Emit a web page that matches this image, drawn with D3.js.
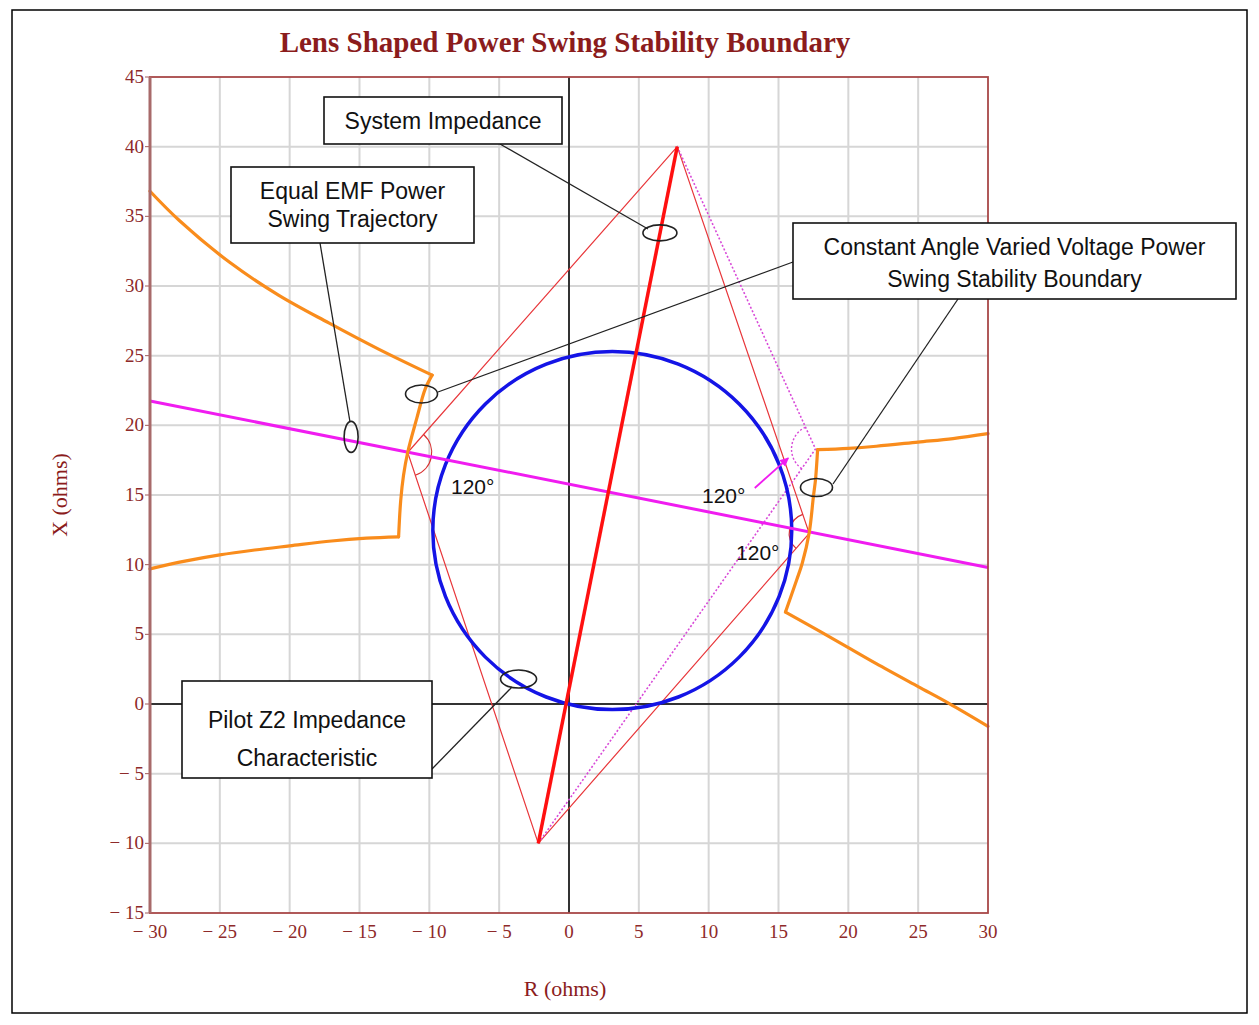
<!DOCTYPE html>
<html><head><meta charset="utf-8">
<script src="https://cdn.jsdelivr.net/npm/d3@7/dist/d3.min.js"></script>
<style>body{margin:0;background:#fff} svg{display:block}</style>
</head><body>
<svg id="c" width="1259" height="1025"></svg>
<script>
// ---------- data ----------
const xTicks = [-30,-25,-20,-15,-10,-5,0,5,10,15,20,25,30];
const yTicks = [-15,-10,-5,0,5,10,15,20,25,30,35,40,45];
const xGrid = [-25,-20,-15,-10,-5,5,10,15,20,25];
const yGrid = [-10,-5,5,10,15,20,25,30,35,40];

const systemImpedance = [[-2.2,-10],[7.75,40]];
const lensBottom = [-2.2,-10];
const lensLeft = [-11.55,18.05];
const lensTop = [7.75,40];
const lensRight = [17.2,12.25];
const dottedVertex = [17.65,18.3];
const equalEmfLine = [[-30,21.75],[30,9.8]];
const pilotCenter = [3.1,12.45];
const pilotRadius = 12.85;

// orange "constant angle varied voltage" boundary, split at its corners
const orangeLeftUpper = [[-30,36.8],[-27.9,34.7],[-24.3,31.7],[-20.8,29.35],[-17.2,27.35],[-13.6,25.45],[-9.8,23.6]];
const orangeLeftMiddle = [[-9.8,23.6],[-10.3,22.6],[-10.9,20.5],[-11.55,18.05],[-11.85,16.4],[-12.05,14.6],[-12.2,12.0]];
const orangeLeftLower = [[-12.2,12.0],[-14.5,11.9],[-17,11.7],[-20,11.35],[-22.5,11.05],[-25,10.7],[-27.5,10.25],[-30,9.7]];
const orangeRightUpper = [[30,19.4],[27.5,19.05],[25,18.8],[22,18.5],[20,18.35],[17.8,18.25]];
const orangeRightMiddle = [[17.8,18.25],[17.65,16.1],[17.5,14.9],[17.2,12.3],[16.7,10.1],[16.3,8.9],[15.5,6.6]];
const orangeRightLower = [[15.5,6.6],[18,5.2],[20,4.05],[22,2.9],[25,1.25],[27.2,0.05],[30,-1.6]];

const angleLabels = [[-8.45,15.07],[9.52,14.43],[11.96,10.34]];
const arrowLine = [[13.3,15.5],[15.7,17.65]];

// callouts: ellipse anchor (data) + box layout
const callouts = [
  {lines:["System Impedance"], box:[324,97,562,144], base:[129],
   ell:[6.51,33.81], rx:17, ry:8, leader:[[500,144],[648,229]]},
  {lines:["Equal EMF Power","Swing Trajectory"], box:[231,167,474,243], base:[199,227],
   ell:[-15.6,19.17], rx:7, ry:15.5, leader:[[320,243],[350,422]]},
  {lines:["Constant Angle Varied Voltage Power","Swing Stability Boundary"], box:[793,223,1236,299], base:[255,287],
   ell:[-10.56,22.25], rx:16, ry:9, leader:[[793,262],[438,392]],
   ell2:[17.72,15.54], leader2:[[958,299],[833,484]]},
  {lines:["Pilot Z2 Impedance","Characteristic"], box:[182,681,432,778], base:[728,766],
   ell:[-3.61,1.79], rx:18, ry:9, leader:[[432,769],[512,687]]}
];

// ---------- drawing ----------
const svg = d3.select("#c");
const x = d3.scaleLinear().domain([-30,30]).range([150,988]);
const y = d3.scaleLinear().domain([-15,45]).range([913,77]);
const P = d => [x(d[0]), y(d[1])];

svg.append("rect").attr("x",12).attr("y",10).attr("width",1235).attr("height",1003)
  .attr("fill","#fff").attr("stroke","#000").attr("stroke-width",1.5);

const tickColor = "#8e2a2a";
svg.append("text").attr("x",565).attr("y",52).attr("text-anchor","middle")
  .attr("font-family","'Liberation Serif',serif").attr("font-weight","bold").attr("font-size",29)
  .attr("fill","#8b1c1c").text("Lens Shaped Power Swing Stability Boundary");

// grid
const g = svg.append("g");
g.selectAll(".gx").data(xGrid).join("line").attr("x1",d=>x(d)).attr("x2",d=>x(d))
  .attr("y1",y(-15)).attr("y2",y(45)).attr("stroke","#d6d6d6").attr("stroke-width",2);
g.selectAll(".gy").data(yGrid).join("line").attr("y1",d=>y(d)).attr("y2",d=>y(d))
  .attr("x1",x(-30)).attr("x2",x(30)).attr("stroke","#d6d6d6").attr("stroke-width",2);
// zero axes
g.append("line").attr("x1",x(0)).attr("x2",x(0)).attr("y1",y(-15)).attr("y2",y(45)).attr("stroke","#333").attr("stroke-width",2);
g.append("line").attr("y1",y(0)).attr("y2",y(0)).attr("x1",x(-30)).attr("x2",x(30)).attr("stroke","#333").attr("stroke-width",2);

// tick labels
const fmt = v => v < 0 ? "\u2212 " + Math.abs(v) : String(v);
svg.selectAll(".yt").data(yTicks).join("text").attr("x",144).attr("y",d=>y(d)+6)
  .attr("text-anchor","end").attr("font-family","'Liberation Serif',serif").attr("font-size",19)
  .attr("fill",tickColor).text(fmt);
svg.selectAll(".ytk").data(yTicks).join("line").attr("x1",145).attr("x2",150)
  .attr("y1",d=>y(d)).attr("y2",d=>y(d)).attr("stroke","#a05a5a").attr("stroke-width",1);
svg.selectAll(".xt").data(xTicks).join("text").attr("x",d=>x(d)).attr("y",938)
  .attr("text-anchor","middle").attr("font-family","'Liberation Serif',serif").attr("font-size",19)
  .attr("fill",tickColor).text(fmt);

svg.append("text").attr("transform","translate(67,495) rotate(-90)").attr("text-anchor","middle")
  .attr("font-family","'Liberation Serif',serif").attr("font-size",22).attr("fill","#8b1c1c").text("X (ohms)");
svg.append("text").attr("x",565).attr("y",996).attr("text-anchor","middle")
  .attr("font-family","'Liberation Serif',serif").attr("font-size",22).attr("fill","#8b1c1c").text("R (ohms)");

const line = d3.line().x(d=>x(d[0])).y(d=>y(d[1]));
const smooth = d3.line().x(d=>x(d[0])).y(d=>y(d[1])).curve(d3.curveCatmullRom.alpha(0.5));

// thin red lens
svg.append("path").attr("d", line([lensBottom,lensLeft,lensTop,lensRight,lensBottom]))
  .attr("fill","none").attr("stroke","#e8363a").attr("stroke-width",1.2);
// dotted magenta
svg.append("path").attr("d", line([lensTop,dottedVertex,lensBottom]))
  .attr("fill","none").attr("stroke","#d84ad8").attr("stroke-width",1.6).attr("stroke-dasharray","2,2");

// arcs
function arcAt(c, pA, pB, r) {
  const C = P(c), A = P(pA), B = P(pB);
  let a1 = Math.atan2(A[1]-C[1], A[0]-C[0]);
  let a2 = Math.atan2(B[1]-C[1], B[0]-C[0]);
  while (a2 < a1) a2 += 2*Math.PI;
  const large = (a2 - a1) > Math.PI ? 1 : 0;
  return `M${C[0]+r*Math.cos(a1)},${C[1]+r*Math.sin(a1)} A${r},${r} 0 ${large} 1 ${C[0]+r*Math.cos(a2)},${C[1]+r*Math.sin(a2)}`;
}
svg.append("path").attr("d", arcAt(lensLeft, lensTop, lensBottom, 24)).attr("fill","none").attr("stroke","#d83030").attr("stroke-width",1.2);
svg.append("path").attr("d", arcAt(lensRight, lensBottom, lensTop, 20)).attr("fill","none").attr("stroke","#d83030").attr("stroke-width",1.2);
svg.append("path").attr("d", arcAt(dottedVertex, lensBottom, lensTop, 24)).attr("fill","none").attr("stroke","#d84ad8").attr("stroke-width",1.4).attr("stroke-dasharray","2,2");

// pilot circle
svg.append("ellipse").attr("cx",x(pilotCenter[0])).attr("cy",y(pilotCenter[1]))
  .attr("rx",x(pilotRadius)-x(0)).attr("ry",y(0)-y(pilotRadius))
  .attr("fill","none").attr("stroke","#1414e6").attr("stroke-width",3.5);

// equal EMF line
svg.append("path").attr("d", line(equalEmfLine)).attr("fill","none").attr("stroke","#f01cf0").attr("stroke-width",3);

// orange
[orangeLeftUpper, orangeLeftMiddle, orangeLeftLower, orangeRightUpper, orangeRightMiddle, orangeRightLower]
  .forEach(s => svg.append("path").attr("d", smooth(s)).attr("fill","none")
  .attr("stroke","#f98c1c").attr("stroke-width",3.2).attr("stroke-linecap","round"));

// system impedance thick red
svg.append("path").attr("d", line(systemImpedance)).attr("fill","none").attr("stroke","#ff1010").attr("stroke-width",3.5);

// frame
svg.append("rect").attr("x",x(-30)).attr("y",y(45)).attr("width",x(30)-x(-30)).attr("height",y(-15)-y(45))
  .attr("fill","none").attr("stroke","#a84848").attr("stroke-width",1.8);
svg.append("line").attr("x1",x(-30)).attr("x2",x(-30)).attr("y1",y(45)).attr("y2",y(-15))
  .attr("stroke","#a86a6a").attr("stroke-width",3);

// arrow
const defs = svg.append("defs");
defs.append("marker").attr("id","ah").attr("viewBox","0 0 10 10").attr("refX",9).attr("refY",5)
  .attr("markerWidth",5).attr("markerHeight",5).attr("orient","auto")
  .append("path").attr("d","M0,0 L10,5 L0,10 z").attr("fill","#f01cf0");
svg.append("path").attr("d", line(arrowLine)).attr("stroke","#f01cf0").attr("stroke-width",1.8)
  .attr("fill","none").attr("marker-end","url(#ah)");

// angle labels
svg.selectAll(".al").data(angleLabels).join("text").attr("x",d=>x(d[0])).attr("y",d=>y(d[1]))
  .attr("font-family","'Liberation Sans',Arial,sans-serif").attr("font-size",21).attr("fill","#111")
  .text("120\u00b0");

// callouts
callouts.forEach(c => {
  const lg = svg.append("g");
  const drawLeader = (ld) => lg.append("line").attr("x1",ld[0][0]).attr("y1",ld[0][1]).attr("x2",ld[1][0]).attr("y2",ld[1][1])
    .attr("stroke","#222").attr("stroke-width",1.3);
  const drawEll = (e) => lg.append("ellipse").attr("cx",x(e[0])).attr("cy",y(e[1])).attr("rx",c.rx).attr("ry",c.ry)
    .attr("fill","none").attr("stroke","#222").attr("stroke-width",1.6);
  drawLeader(c.leader); drawEll(c.ell);
  if (c.ell2) { drawLeader(c.leader2); drawEll(c.ell2); }
  const b = c.box;
  lg.append("rect").attr("x",b[0]).attr("y",b[1]).attr("width",b[2]-b[0]).attr("height",b[3]-b[1])
    .attr("fill","#fff").attr("stroke","#111").attr("stroke-width",1.6);
  c.lines.forEach((t,i) => lg.append("text").attr("x",(b[0]+b[2])/2).attr("y",c.base[i])
    .attr("text-anchor","middle").attr("font-family","'Liberation Sans',Arial,sans-serif")
    .attr("font-size",23).attr("fill","#111").text(t));
});
</script>
</body></html>
